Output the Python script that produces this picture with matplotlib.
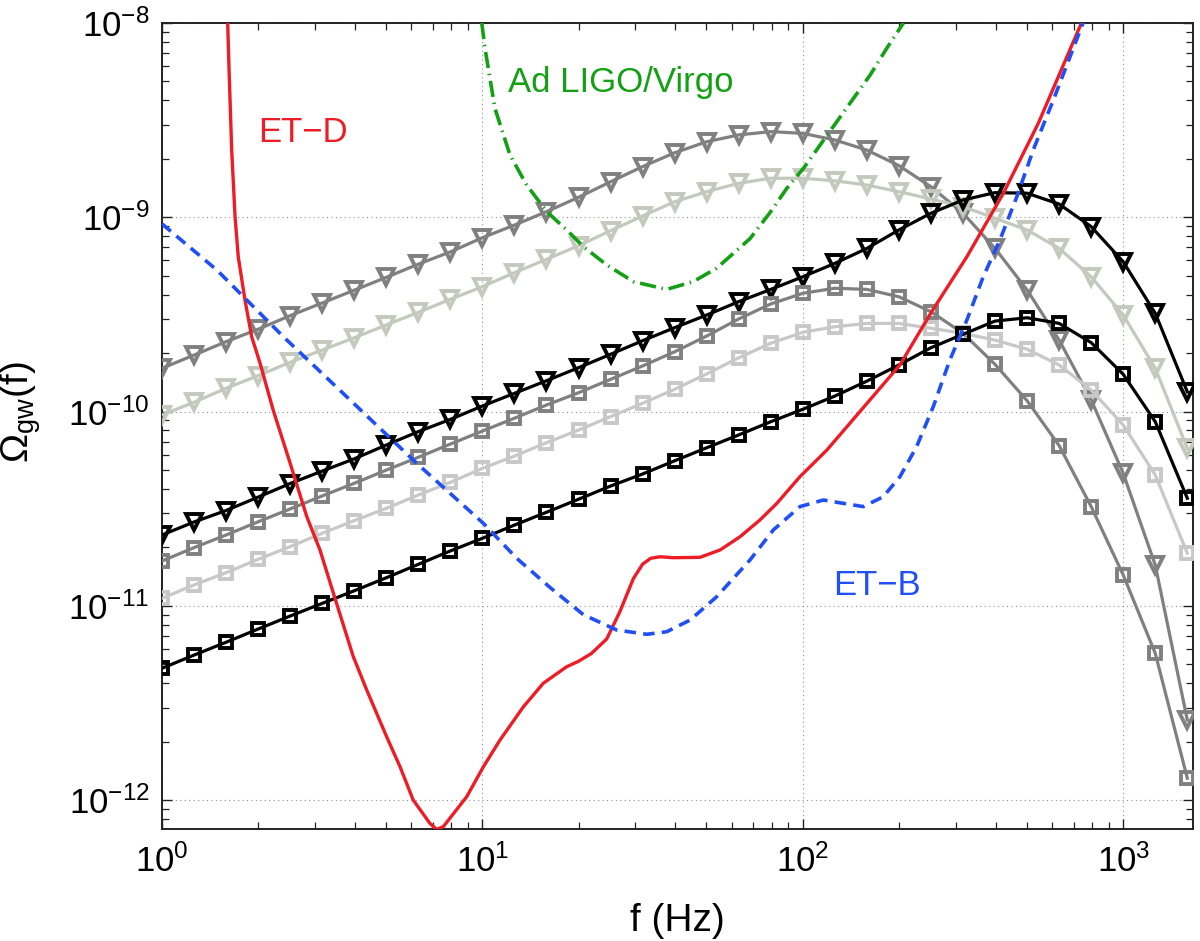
import numpy as np
import matplotlib
matplotlib.use("Agg")
import matplotlib.pyplot as plt

plt.rcParams['font.family'] = ['Liberation Sans', 'DejaVu Sans']
plt.rcParams['mathtext.fontset'] = 'custom'
plt.rcParams['mathtext.rm'] = 'Liberation Sans'
plt.rcParams['mathtext.it'] = 'Liberation Sans:italic'
plt.rcParams['mathtext.bf'] = 'Liberation Sans:bold'

# ---------------- data (log10 values) ----------------
# marker series share one frequency grid (log10 f from 0 to 3.2, step 0.1)
marker_logf = [0.0, 0.1, 0.2, 0.3, 0.4, 0.5, 0.6, 0.7, 0.8, 0.9, 1.0,
               1.1, 1.2, 1.3, 1.4, 1.5, 1.6, 1.7, 1.8, 1.9, 2.0,
               2.1, 2.2, 2.3, 2.4, 2.5, 2.6, 2.7, 2.8, 2.9, 3.0, 3.1, 3.2]

tri_dark = [-9.777, -9.709, -9.640, -9.576, -9.506, -9.441, -9.375, -9.309, -9.241, -9.178, -9.105,
            -9.040, -8.971, -8.897, -8.817, -8.739, -8.668, -8.611, -8.576, -8.559, -8.568,
            -8.602, -8.654, -8.734, -8.843, -8.979, -9.160, -9.374, -9.632, -9.940, -10.318, -10.790, -11.587]
tri_light = [-10.017, -9.952, -9.880, -9.815, -9.746, -9.683, -9.620, -9.554, -9.489, -9.422, -9.357,
             -9.285, -9.216, -9.146, -9.069, -8.993, -8.920, -8.868, -8.825, -8.799, -8.799,
             -8.812, -8.834, -8.868, -8.906, -8.945, -9.005, -9.065, -9.160, -9.306, -9.503, -9.777, -10.189]
tri_black = [-10.635, -10.568, -10.509, -10.440, -10.370, -10.306, -10.243, -10.172, -10.103, -10.040, -9.971,
             -9.906, -9.841, -9.774, -9.705, -9.635, -9.568, -9.503, -9.434, -9.371, -9.306,
             -9.237, -9.160, -9.065, -8.979, -8.911, -8.873, -8.876, -8.932, -9.048, -9.229, -9.494, -9.898]
sq_gray = [-10.769, -10.700, -10.635, -10.567, -10.501, -10.434, -10.369, -10.301, -10.235, -10.167, -10.100,
           -10.034, -9.966, -9.903, -9.834, -9.765, -9.692, -9.611, -9.523, -9.446, -9.391,
           -9.365, -9.371, -9.409, -9.486, -9.597, -9.757, -9.944, -10.175, -10.489, -10.841, -11.244, -11.887]
sq_light = [-10.961, -10.892, -10.829, -10.760, -10.695, -10.626, -10.561, -10.498, -10.429, -10.364, -10.292,
            -10.229, -10.160, -10.095, -10.026, -9.957, -9.885, -9.806, -9.723, -9.648, -9.592,
            -9.563, -9.546, -9.546, -9.571, -9.597, -9.632, -9.679, -9.760, -9.889, -10.069, -10.326, -10.729]
sq_black = [-11.321, -11.253, -11.187, -11.119, -11.052, -10.987, -10.922, -10.855, -10.786, -10.717, -10.652,
            -10.584, -10.518, -10.451, -10.383, -10.321, -10.253, -10.186, -10.120, -10.052, -9.988,
            -9.920, -9.843, -9.760, -9.671, -9.602, -9.534, -9.517, -9.546, -9.645, -9.808, -10.052, -10.446]

# ET-D sensitivity
etd_logf = [0.205, 0.209, 0.2175, 0.228, 0.238, 0.259, 0.280, 0.306, 0.347, 0.400, 0.452, 0.493,
            0.535, 0.597, 0.639, 0.701, 0.743, 0.784, 0.836, 0.857, 0.878, 0.951, 1.003, 1.055,
            1.128, 1.190, 1.263, 1.300, 1.340, 1.388, 1.429, 1.471, 1.500, 1.525, 1.554, 1.596, 1.679, 1.742,
            1.804, 1.866, 1.919, 1.991, 2.075, 2.303, 2.402, 2.512, 2.590, 2.626, 2.735, 2.870]
etd_logO = [-8.0, -8.225, -8.654, -8.997, -9.203, -9.426, -9.615, -9.751, -9.992, -10.266, -10.541, -10.712,
            -10.935, -11.261, -11.433, -11.673, -11.828, -11.999, -12.119, -12.150, -12.136, -11.982, -11.828, -11.690,
            -11.519, -11.398, -11.313, -11.285, -11.245, -11.170, -11.030, -10.860, -10.785, -10.755, -10.747, -10.752, -10.750, -10.712,
            -10.644, -10.558, -10.472, -10.335, -10.198, -9.760, -9.486, -9.203, -8.979, -8.876, -8.516, -7.998]

# ET-B sensitivity
etb_logf = [0.0, 0.171, 0.379, 0.587, 0.795, 1.003, 1.107, 1.211, 1.315, 1.419, 1.513, 1.575,
            1.648, 1.731, 1.835, 1.908, 1.991, 2.064, 2.126, 2.189, 2.251, 2.303, 2.355, 2.407,
            2.459, 2.512, 2.563, 2.615, 2.668, 2.719, 2.782, 2.875]
etb_logO = [-9.034, -9.271, -9.615, -9.940, -10.266, -10.575, -10.755, -10.905, -11.045, -11.124, -11.146, -11.133,
            -11.073, -10.953, -10.764, -10.609, -10.489, -10.455, -10.472, -10.489, -10.438, -10.335, -10.181, -9.975,
            -9.734, -9.529, -9.306, -9.117, -8.894, -8.654, -8.396, -7.998]

# Advanced LIGO/Virgo sensitivity
ligo_logf = [0.998, 1.008, 1.039, 1.086, 1.138, 1.201, 1.263, 1.315, 1.388, 1.471, 1.575, 1.658,
             1.731, 1.835, 1.898, 1.950, 2.002, 2.054, 2.106, 2.158, 2.210, 2.262, 2.314]
ligo_logO = [-8.0, -8.130, -8.439, -8.679, -8.834, -8.971, -9.065, -9.151, -9.245, -9.331, -9.371, -9.331,
             -9.262, -9.110, -8.975, -8.851, -8.748, -8.628, -8.508, -8.388, -8.268, -8.130, -8.0]

# tick positions
x_major = [1, 10, 100, 1000]
y_major = [1e-12, 1e-11, 1e-10, 1e-9, 1e-8]

def p(v):
    return np.power(10.0, np.asarray(v, dtype=float))

# ---------------- figure ----------------
fig = plt.figure(figsize=(12, 9.41), dpi=100)
ax = fig.add_axes([162/1200, 1-829/941, (1193-162)/1200, (829-23)/941])
ax.set_xscale('log')
ax.set_yscale('log')

fm = p(marker_logf)
lw = 2.3
series = [
    (tri_dark, '#808080', 'v', 11.5),
    (tri_light, '#c3cabd', 'v', 11.5),
    (tri_black, '#000000', 'v', 11.5),
    (sq_gray, '#808080', 's', 8.5),
    (sq_light, '#c8c8c8', 's', 8.5),
    (sq_black, '#000000', 's', 8.5),
]
for vals, col, mk, ms in series:
    ax.plot(fm, p(vals), color=col, lw=lw, marker=mk, ms=ms, mfc='none',
            mec=col, mew=2.8, zorder=3, clip_on=True)

ax.plot(p(etd_logf), p(etd_logO), color='#ee1c25', lw=2.4, zorder=4,
        solid_joinstyle='round')
ax.plot(p(etb_logf), p(etb_logO), color='#1f4ff5', lw=2.6, ls=(0, (3.2, 2.0)), zorder=4)
ax.plot(p(ligo_logf), p(ligo_logO), color='#14a014', lw=2.6,
        ls=(0, (4.5, 1.6, 0.4, 1.6)), zorder=4)

ax.text(1.99, 2.44e-9, 'ET\u2212D', color='#ee1c25', fontsize=25, ha='left', va='baseline')
ax.text(12.0, 4.42e-9, 'Ad LIGO/Virgo', color='#14a014', fontsize=25, ha='left', va='baseline')
ax.text(124, 1.14e-11, 'ET\u2212B', color='#1f4ff5', fontsize=25, ha='left', va='baseline')

ax.set_xticks(x_major)
ax.set_yticks(y_major)
ax.set_xticklabels([r'$10^{%d}$' % int(round(np.log10(v))) for v in x_major])
ax.set_yticklabels([r'$10^{%d}$' % int(round(np.log10(v))) for v in y_major])
ax.set_xlim(1, 1651)
ax.set_ylim(7.11e-13, 1e-8)

ax.grid(True, which='major', linestyle=(0, (1, 3)), color='#909090', linewidth=0.8)
ax.grid(False, which='minor')
ax.tick_params(which='both', direction='in', top=True, right=True, colors='#222222',
               labelcolor='black')
ax.tick_params(which='major', length=7, width=1.0, labelsize=25, pad=11)
ax.tick_params(which='minor', length=5, width=0.9)
ax.tick_params(axis='y', which='major', pad=9)
ax.xaxis.set_minor_formatter(matplotlib.ticker.NullFormatter())
ax.yaxis.set_minor_formatter(matplotlib.ticker.NullFormatter())
for s in ax.spines.values():
    s.set_linewidth(1.4)
    s.set_color('#222222')

ax.set_xlabel('f (Hz)', fontsize=28)
ax.xaxis.set_label_coords(0.5, -(903-829)/806)
ax.set_ylabel(r'$\Omega_{\mathrm{gw}}\mathrm{(f)}$', fontsize=28)
ax.yaxis.set_label_coords(-(162-43)/1031, 1-(412-23)/806)

fig.savefig('out.png', dpi=100)
